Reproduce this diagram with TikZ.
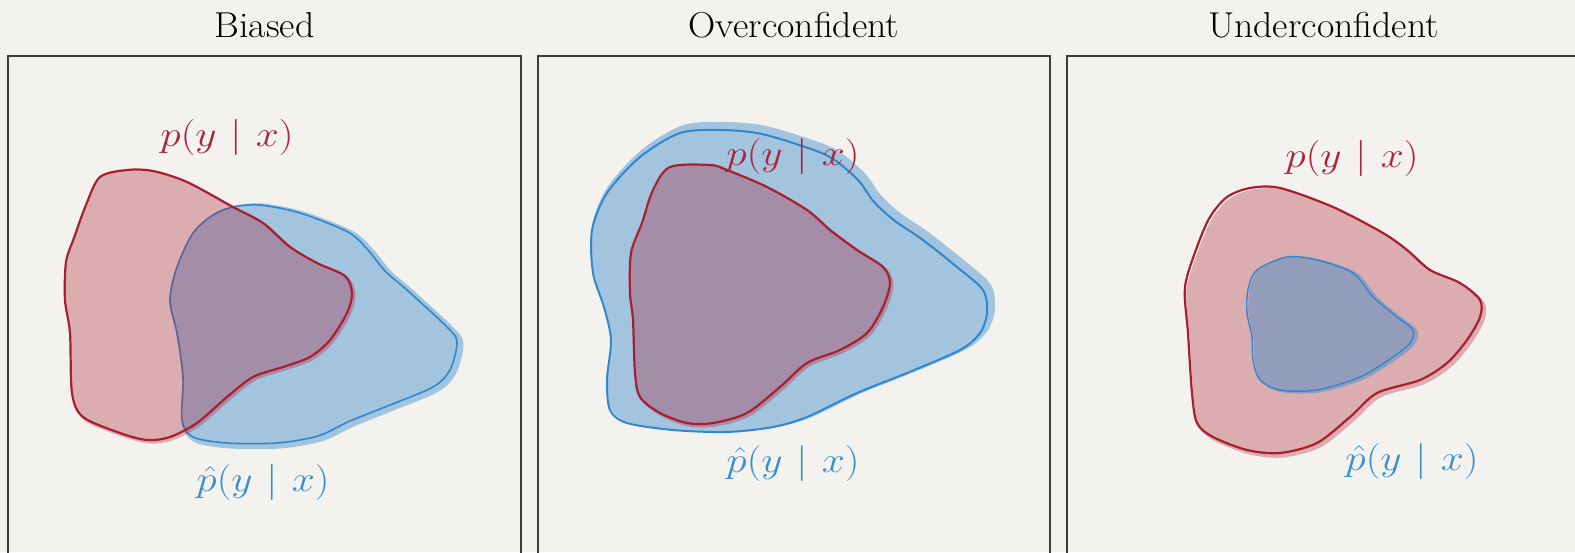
\RequirePackage{fix-cm}
\documentclass[tikz,border=0pt]{standalone}
\usepackage{amsmath}
\usepackage{graphicx}
\definecolor{bgc}{RGB}{243,242,238}
\definecolor{redC}{RGB}{170,30,50}
\definecolor{blueC}{RGB}{50,134,204}
\definecolor{redT}{RGB}{172,36,58}
\definecolor{blueT}{RGB}{58,143,208}
\definecolor{frameC}{RGB}{60,60,60}
\tikzset{
  frame/.style={draw=frameC, line width=1.4pt},
  ttl/.style={anchor=base, font=\fontsize{36}{40}\selectfont, text=black},
  lblred/.style={anchor=center, text=redT, font=\fontsize{36}{40}\selectfont, inner sep=0pt},
  lblblue/.style={anchor=center, text=blueT, font=\fontsize{36}{40}\selectfont, inner sep=0pt},
}
\newcommand\wide[1]{\scalebox{1.15}[1]{#1}}
\newcommand\pyx{\wide{$p(y \mkern6mu|\mkern6mu x)$}}
\newcommand\phyx{\wide{$\hat{p}(y \mkern6mu|\mkern6mu x)$}}
% #1 colour, #2 fill opacity, #3 shift of the fill, #4 halo width, #5 outline width, #6 points
\newcommand\blobshape[6]{%
  \begin{scope}[transparency group, opacity=#2]
    \path[shift={#3}, fill=#1, draw=#1, line width=#4, line join=round]
      plot[smooth cycle, tension=0.5] coordinates {#6};
  \end{scope}
  \path[draw=#1, line width=#5, line join=round]
    plot[smooth cycle, tension=0.5] coordinates {#6};
}
\begin{document}
\begin{tikzpicture}[x=1pt,y=-1pt]
\useasboundingbox (0,0) rectangle (1575,552);
\clip (0,0) rectangle (1575,552);
\fill[bgc] (0,0) rectangle (1575,552);

% frames
\draw[frame] (8,56) rectangle (521,620);
\draw[frame] (538,56) rectangle (1050,620);
\draw[frame] (1067,56) rectangle (1600,620);

% titles
\node[ttl] (t1) at (264.5,37) {\scalebox{1.05}[1]{Biased}};
\node[ttl] (t2) at (794,37) {\scalebox{1.05}[1]{Overconfident}};
\node[ttl] (t3) at (1323.5,37) {\scalebox{1.05}[1]{Underconfident}};

% ---------- panel 1: biased ----------
\blobshape{blueC}{0.42}{(3,2)}{7pt}{1.6pt}{(213,215) (233,207) (260,205) (300,213) (348,232) (368,250) (385,271) (407,290) (447,327) (457,342) (450,370) (433,387) (390,405) (350,421) (318,436) (277,443) (227,443) (193,437) (182,420) (183,377) (177,333) (170,300) (177,267) (193,233)}
\blobshape{redC}{0.32}{(2,2)}{3pt}{2.2pt}{(100,177) (127,170) (153,171) (187,182) (233,207) (263,223) (290,247) (317,263) (345,276) (352,293) (347,313) (330,340) (310,357) (283,367) (253,377) (227,397) (197,423) (170,437) (147,440) (120,433) (83,417) (72,393) (70,333) (65,300) (66,262) (74,238) (86,205)}
\node[lblred] (p1) at (227,137) {\pyx};
\node[lblblue] (q1) at (263,482) {\phyx};

% ---------- panel 2: overconfident ----------
\blobshape{blueC}{0.42}{(4,-4)}{8pt}{2pt}{(607,193) (640,157) (680,133) (720,130) (757,133) (793,143) (830,157) (858,180) (874,202) (895,221) (923,240) (957,267) (983,290) (987,313) (980,333) (960,350) (907,373) (857,393) (807,417) (773,427) (727,432) (673,430) (627,423) (610,410) (607,380) (611,340) (604,307) (593,273) (592,230)}
\blobshape{redC}{0.32}{(2,2)}{3pt}{2.2pt}{(670,167) (710,165) (727,170) (767,187) (807,210) (830,230) (857,250) (883,267) (890,283) (883,307) (867,333) (840,350) (807,363) (780,387) (747,413) (713,423) (687,423) (660,413) (640,397) (635,373) (633,320) (630,293) (631,253) (642,223) (653,190)}
\node[lblred] (p2) at (793,156) {\pyx};
\node[lblblue] (q2) at (793,463) {\phyx};

% ---------- panel 3: underconfident ----------
\blobshape{redC}{0.32}{(3,3)}{3pt}{2.2pt}{(1227,197) (1250,188) (1280,188) (1333,207) (1383,233) (1407,250) (1430,270) (1460,283) (1480,300) (1480,317) (1467,340) (1447,363) (1420,380) (1377,393) (1350,417) (1317,443) (1280,453) (1247,450) (1213,437) (1197,423) (1192,393) (1188,333) (1185,287) (1197,247) (1210,217)}
\blobshape{blueC}{0.42}{(3,1)}{3pt}{1.4pt}{(1257,270) (1287,257) (1317,260) (1353,273) (1373,297) (1397,317) (1413,330) (1410,343) (1393,357) (1360,377) (1317,390) (1280,390) (1260,380) (1253,360) (1252,337) (1247,313) (1248,290)}
\node[lblred] (p3) at (1352,158) {\pyx};
\node[lblblue] (q3) at (1412,461) {\phyx};
\end{tikzpicture}
\end{document}
